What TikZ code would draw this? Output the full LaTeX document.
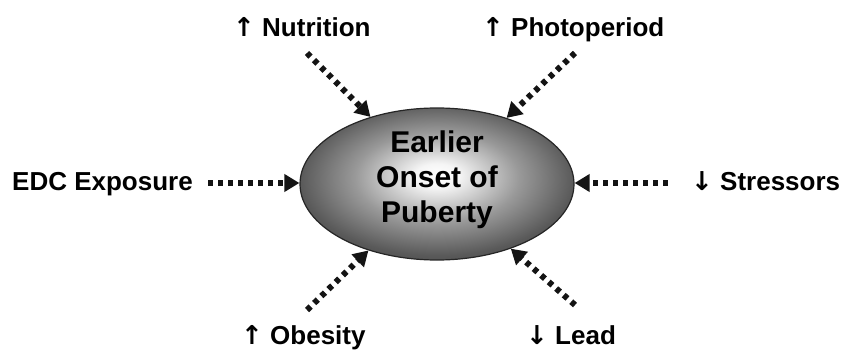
\documentclass[tikz,border=0pt]{standalone}
\usepackage{fontspec}
\setmainfont{Liberation Sans}
\newfontfamily\arrowfont{DejaVu Sans}
\usetikzlibrary{arrows.meta,shapes.geometric}
\pgfdeclareradialshading{eggshade}{\pgfpoint{0bp}{3bp}}{color(0bp)=(white); color(4bp)=(black!4); color(15bp)=(black!40); color(25bp)=(black!65); color(35bp)=(black!78); color(50bp)=(black!85)}
\newcommand{\upar}{{\arrowfont\bfseries ↑}}
\newcommand{\dnar}{{\arrowfont\bfseries ↓}}
\begin{document}
\begin{tikzpicture}[x=1pt,y=-1pt,
  lbl/.style={font=\fontsize{26}{30}\selectfont\bfseries, inner sep=0pt, anchor=base west},
  dotarrow/.style={draw=black!92, line width=6pt, dash pattern=on 5pt off 5pt, -{Triangle[length=15pt,width=17pt]}},
]
\useasboundingbox (0,0) rectangle (844,350);
\node[ellipse, minimum width=274pt, minimum height=152pt, draw=black!85, line width=1.2pt, shading=eggshade, inner sep=0pt] (c) at (437,184) {};
\node[font=\fontsize{30}{35}\selectfont\bfseries, align=center, inner sep=0pt] (ct) at (437,180) {Earlier\\Onset of\\Puberty};
\node[lbl] (nut) at (233,37) {\upar\ Nutrition};
\node[lbl] (pho) at (482,37) {\upar\ Photoperiod};
\node[lbl] (edc) at (12,191) {EDC Exposure};
\node[lbl] (str) at (691,191) {\dnar\ Stressors};
\node[lbl] (obe) at (241,344) {\upar\ Obesity};
\node[lbl] (lea) at (526,344) {\dnar\ Lead};
\coordinate (s1) at (307,53);
\coordinate (s2) at (575,53);
\coordinate (s3) at (208,183);
\coordinate (s4) at (668,183);
\coordinate (s5) at (307,310);
\coordinate (s6) at (575,305);
\draw[dotarrow] (s1) -- (c);
\draw[dotarrow] (s2) -- (c);
\draw[dotarrow] (s3) -- (s3 -| c.west);
\draw[dotarrow] (s4) -- (s4 -| c.east);
\draw[dotarrow] (s5) -- (c);
\draw[dotarrow] (s6) -- (c);
\end{tikzpicture}
\end{document}
